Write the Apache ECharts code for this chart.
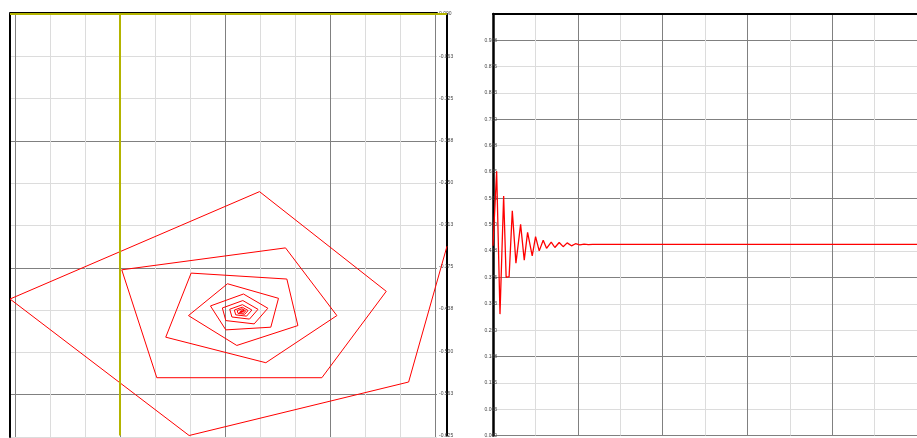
<!DOCTYPE html>
<html><head><meta charset="utf-8">
<script src="https://cdn.jsdelivr.net/npm/echarts@6/dist/echarts.min.js"></script>
<style>html,body{margin:0;padding:0;background:#fff}#c{width:917px;height:438px}</style>
</head><body><div id="c"></div><script>
// Phase portrait (left panel)
const spiralX = [0.5834, 0.5149, 0.1232, -0.1964, 0.2488, 0.4750, 0.3601, 0.0655, 0.0030, 0.2952,
  0.3869, 0.2601, 0.0815, 0.1268, 0.2976, 0.3173, 0.2083, 0.1220, 0.1917, 0.2827,
  0.2690, 0.1887, 0.1613, 0.2202, 0.2637, 0.2393, 0.1887, 0.1825, 0.2191, 0.2461,
  0.2309, 0.1996, 0.1957, 0.2184, 0.2352, 0.2257, 0.2064, 0.2039, 0.2180, 0.2284,
  0.2225, 0.2105, 0.2091, 0.2177, 0.2241, 0.2205, 0.2130, 0.2121, 0.2175, 0.2216,
  0.2193, 0.2146, 0.2141, 0.2173, 0.2200, 0.2186, 0.2157, 0.2154, 0.2173, 0.2189];
const spiralY = [-0.3443, -0.5457, -0.6250, -0.4226, -0.2634, -0.4112, -0.5393, -0.5393, -0.3793, -0.3468,
  -0.4472, -0.5171, -0.4792, -0.3842, -0.3930, -0.4620, -0.4915, -0.4472, -0.4000, -0.4216,
  -0.4644, -0.4684, -0.4329, -0.4152, -0.4363, -0.4595, -0.4546, -0.4359, -0.4249, -0.4379,
  -0.4524, -0.4493, -0.4378, -0.4310, -0.4390, -0.4480, -0.4461, -0.4390, -0.4347, -0.4397,
  -0.4452, -0.4440, -0.4397, -0.4371, -0.4402, -0.4436, -0.4428, -0.4402, -0.4384, -0.4403,
  -0.4425, -0.4421, -0.4403, -0.4393, -0.4405, -0.4418, -0.4416, -0.4405, -0.4399, -0.4408];
// Time series (right panel)
const timeT = [0, 0.86, 1.65, 2.51, 3.1, 3.8, 4.55, 5.41, 6.51, 7.37, 8.16, 9.25, 10.04, 10.90,
  11.84, 12.63, 13.73, 14.59, 15.61, 16.55, 17.49, 18.51, 19.45, 20.47, 21.49, 22.5, 23.5, 24.5, 100];
const timeV = [0.45, 0.627, 0.288, 0.568, 0.375, 0.377, 0.533, 0.409, 0.501, 0.416, 0.482, 0.426, 0.472, 0.438,
  0.463, 0.444, 0.459, 0.446, 0.458, 0.448, 0.457, 0.450, 0.455, 0.452, 0.454, 0.453, 0.4535, 0.4535, 0.4535];
// Axis ranges / ticks
const leftYMin = -0.625, leftYMax = 0, tickStep = 0.0625;
const gridXMin = -0.1875, gridXMax = 0.5625;      // range covered by the vertical grid lines
const dataXMin = -0.19643, dataXMax = 0.58339;    // full plotted x range of the phase panel
const rightYMin = 0, rightYMax = 1;
const rightXMin = 0, rightXMax = 100, rightXStep = 10;

const DARK = '#808080', LIGHT = '#dcdcdc';
const fmt = v => v.toFixed(3);
const lab = { fontSize: 5, color: '#444', fontFamily: 'Liberation Sans, Arial, sans-serif', formatter: fmt };
const hidden = { axisLine: { show: false }, axisTick: { show: false }, axisLabel: { show: false }, splitLine: { show: false } };
const blackLine = w => ({ show: true, onZero: false, lineStyle: { color: '#000', width: w } });

const chart = echarts.init(document.getElementById('c'), null, { renderer: 'canvas' });
chart.setOption({
  animation: false,
  backgroundColor: '#fff',
  grid: [
    { left: 10, top: 14, width: 427, height: 423 },   // 0: horizontal grid lines, frame
    { left: 15, top: 14, width: 420, height: 423 },   // 1: vertical grid lines
    { left: 10, top: 14, width: 437, height: 423 },   // 2: phase data + right axis
    { left: 493, top: 14, width: 425, height: 423 }   // 3: time series
  ],
  xAxis: [
    { gridIndex: 0, type: 'value', min: 0, max: 1, position: 'top', offset: 1,
      axisLine: blackLine(2), axisTick: { show: false }, axisLabel: { show: false }, splitLine: { show: false } },
    Object.assign({ gridIndex: 1, type: 'value', min: gridXMin, max: gridXMax, interval: tickStep }, hidden,
      { splitLine: { show: true, lineStyle: { color: [DARK, LIGHT, LIGHT], width: 1 } } }),
    Object.assign({ gridIndex: 2, type: 'value', min: dataXMin, max: dataXMax }, hidden),
    { gridIndex: 3, type: 'value', min: rightXMin, max: rightXMax, interval: rightXStep, position: 'top',
      axisLine: blackLine(2), axisTick: { show: false }, axisLabel: { show: false },
      splitLine: { show: true, lineStyle: { color: [DARK, LIGHT], width: 1 } } }
  ],
  yAxis: [
    { gridIndex: 0, type: 'value', min: leftYMin, max: leftYMax, interval: tickStep,
      axisLine: blackLine(2), axisTick: { show: false }, axisLabel: { show: false },
      splitLine: { show: true, lineStyle: { color: [LIGHT, DARK, LIGHT], width: 1 } } },
    Object.assign({ gridIndex: 1, type: 'value', min: leftYMin, max: leftYMax }, hidden),
    { gridIndex: 2, type: 'value', position: 'right', min: leftYMin, max: leftYMax, interval: tickStep,
      axisLine: blackLine(2), axisTick: { show: false },
      axisLabel: Object.assign({ margin: -8 }, lab), splitLine: { show: false } },
    { gridIndex: 3, type: 'value', min: rightYMin, max: rightYMax, interval: tickStep,
      axisLine: blackLine(2.5), axisTick: { show: false },
      axisLabel: Object.assign({ margin: -4, showMaxLabel: false }, lab),
      splitLine: { show: true, lineStyle: { color: [DARK, LIGHT, LIGHT], width: 1 } } }
  ],
  series: [
    { type: 'line', xAxisIndex: 2, yAxisIndex: 2, clip: false, symbol: 'none', silent: true,
      data: spiralX.map((x, i) => [x, spiralY[i]]),
      lineStyle: { color: '#ff0000', width: 1 },
      markLine: { silent: true, symbol: 'none', label: { show: false },
        lineStyle: { color: '#b4b400', width: 2, type: 'solid' },
        data: [{ xAxis: 0 }, { yAxis: 0 }] } },
    { type: 'line', xAxisIndex: 3, yAxisIndex: 3, symbol: 'none', silent: true,
      data: timeT.map((t, i) => [t, timeV[i]]),
      lineStyle: { color: '#ff0000', width: 1.3 } }
  ]
});
</script></body></html>
